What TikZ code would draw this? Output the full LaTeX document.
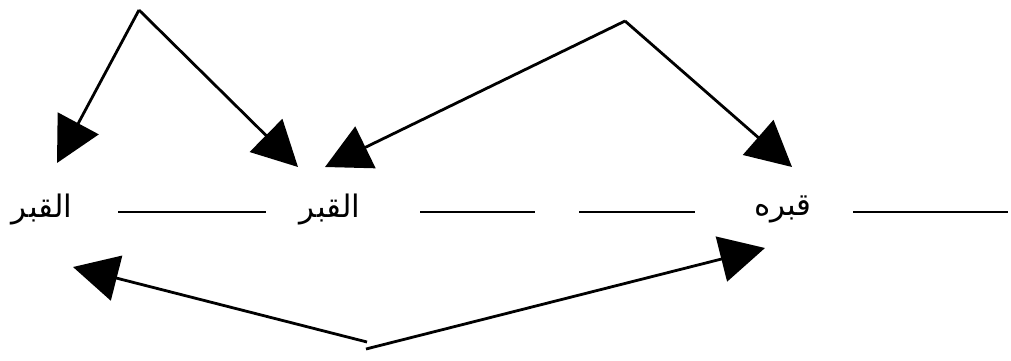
\documentclass[tikz,border=0pt]{standalone}
\usepackage{fontspec}
\newfontfamily\arabicfont[Script=Arabic]{DejaVu Sans}
\TeXXeTstate=1
\usetikzlibrary{arrows.meta}
\begin{document}
\begin{tikzpicture}[x=1pt,y=-1pt,
  conn/.style={line width=2.8pt,-{Triangle[length=45pt,width=46pt]}},
  rule/.style={line width=1.8pt},
  word/.style={font=\arabicfont\fontsize{31}{36}\selectfont,inner sep=0pt}]
\useasboundingbox (0,0) rectangle (1011,360);
% words
\node[word] (w1) at (42,209) {\beginR القبر\endR};
\node[word] (w2) at (330,209) {\beginR القبر\endR};
\node[word] (w3) at (783,209) {\beginR قبره\endR};
% apexes
\coordinate (a1) at (139,10);
\coordinate (a2) at (625,21);
\coordinate (b1) at (367,342);
\coordinate (b2) at (366,349);
% arrow tips
\coordinate (t1) at (57,163);
\coordinate (t2) at (298,167);
\coordinate (t3) at (325,167);
\coordinate (t4) at (792,167);
\coordinate (t5) at (73,267);
\coordinate (t6) at (765,248);
% connectors
\draw[conn] (a1) -- (t1);
\draw[conn] (a1) -- (t2);
\draw[conn] (a2) -- (t3);
\draw[conn] (a2) -- (t4);
\draw[conn] (b1) -- (t5);
\draw[conn] (b2) -- (t6);
% dashes
\coordinate (d1a) at (118,212); \coordinate (d1b) at (266,212);
\coordinate (d2a) at (420,212); \coordinate (d2b) at (535,212);
\coordinate (d3a) at (579,212); \coordinate (d3b) at (695,212);
\coordinate (d4a) at (853,212); \coordinate (d4b) at (1008,212);
\draw[rule] (d1a) -- (d1b);
\draw[rule] (d2a) -- (d2b);
\draw[rule] (d3a) -- (d3b);
\draw[rule] (d4a) -- (d4b);
\end{tikzpicture}
\end{document}
